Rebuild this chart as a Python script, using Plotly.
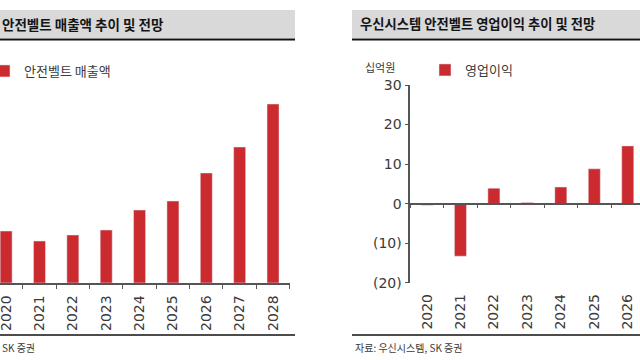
import plotly.graph_objects as go

W, H = 640, 360

# ---- data ----
years_left = ['2020', '2021', '2022', '2023', '2024', '2025', '2026', '2027', '2028']
sales = [52, 42, 48, 53, 73, 82, 110, 136, 179]          # 안전벨트 매출액 (axis cropped; relative scale)
years_right = ['2020', '2021', '2022', '2023', '2024', '2025', '2026']
op_income = [-0.4, -13.3, 3.9, 0.3, 4.2, 8.8, 14.6]      # 영업이익, 십억원
y2_ticks = [-20, -10, 0, 10, 20, 30]
y2_ticktext = ['(20)', '(10)', '0', '10', '20', '30']

RED = '#CB2B2F'
TXT = '#3a3a3a'
AX = '#555555'
KR = 'Noto Sans CJK KR'
NUM = 'DejaVu Sans'


def px(x):
    return x / W


def py(y):
    return 1 - y / H


fig = go.Figure()
fig.add_trace(go.Bar(x=years_left, y=sales, name='안전벨트 매출액', marker_color=RED,
                     width=0.36, xaxis='x', yaxis='y', legend='legend'))
fig.add_trace(go.Bar(x=years_right, y=op_income, name='영업이익', marker_color=RED,
                     width=0.36, xaxis='x2', yaxis='y2', legend='legend2'))

y2_range = [-20, 30]
y2_dom = [py(282.7), py(85)]
zero_pos = y2_dom[0] + (0 - y2_range[0]) / (y2_range[1] - y2_range[0]) * (y2_dom[1] - y2_dom[0])

tickfont = dict(family=NUM, size=14, color=TXT)

fig.update_layout(
    width=W, height=H, margin=dict(l=0, r=0, t=0, b=0, autoexpand=False),
    paper_bgcolor='white', plot_bgcolor='rgba(0,0,0,0)',
    bargap=0.6,
    xaxis=dict(domain=[0, px(289.7)], range=[-0.184, 8.5], type='category',
               showline=True, linecolor=AX, linewidth=1.5, ticks='outside', tickson='boundaries',
               ticklen=4, tickcolor=AX, tickwidth=1.2, tickangle=-90, tickfont=tickfont,
               ticklabelstandoff=5,
               showgrid=False, zeroline=False, anchor='y', fixedrange=True, automargin=False),
    yaxis=dict(domain=[py(283), py(83)], range=[0, 200], visible=False, fixedrange=True),
    xaxis2=dict(domain=[px(410.25), 1], range=[-0.5, 6.366], type='category',
                anchor='free', position=zero_pos,
                showline=True, linecolor=AX, linewidth=1.5, ticks='outside', tickson='boundaries',
                ticklen=4, tickcolor=AX, tickwidth=1.2, tickangle=-90, tickfont=tickfont,
                ticklabelstandoff=84,
                showgrid=False, zeroline=False, fixedrange=True, automargin=False),
    yaxis2=dict(domain=y2_dom, range=y2_range, anchor='x2', side='left',
                tickmode='array', tickvals=y2_ticks, ticktext=y2_ticktext,
                showline=True, linecolor=AX, linewidth=1.5, ticks='outside', ticklen=4,
                tickcolor=AX, tickwidth=1.2, tickfont=tickfont,
                showgrid=False, zeroline=False, fixedrange=True, automargin=False),
    legend=dict(x=px(-16), y=py(71), xanchor='left', yanchor='middle',
                font=dict(family=KR, size=13, color=TXT), bgcolor='rgba(0,0,0,0)',
                borderwidth=0, itemwidth=30),
    legend2=dict(x=px(425), y=py(70), xanchor='left', yanchor='middle',
                 font=dict(family=KR, size=13, color=TXT), bgcolor='rgba(0,0,0,0)',
                 borderwidth=0, itemwidth=30),
    showlegend=True,
)

shapes = []
# title bands
for x0, x1 in [(-5, 295), (352, 645)]:
    shapes.append(dict(type='rect', xref='paper', yref='paper', x0=px(x0), x1=px(x1),
                       y0=py(38), y1=py(10), fillcolor='#d9d9d9', line_width=0, layer='below'))
    shapes.append(dict(type='line', xref='paper', yref='paper', x0=px(x0), x1=px(x1),
                       y0=py(39.5), y1=py(39.5), line=dict(color='#111111', width=2)))
    shapes.append(dict(type='line', xref='paper', yref='paper', x0=px(x0), x1=px(x1),
                       y0=py(335), y1=py(335), line=dict(color='#111111', width=1.6)))
fig.update_layout(shapes=shapes)

ann = [
    dict(text='<b>안전벨트 매출액 추이 및 전망</b>', x=px(0), y=py(24), xanchor='left', yanchor='middle',
         font=dict(family=KR, size=13.5, color='#151515')),
    dict(text='<b>우신시스템 안전벨트 영업이익 추이 및 전망</b>', x=px(358), y=py(24), xanchor='left',
         yanchor='middle', font=dict(family=KR, size=13.3, color='#151515')),
    dict(text='십억원', x=px(363), y=py(67), xanchor='left', yanchor='middle',
         font=dict(family=KR, size=11, color=TXT)),
    dict(text='SK 증권', x=px(37), y=py(347), xanchor='right', yanchor='middle',
         font=dict(family=KR, size=10, color=TXT)),
    dict(text='자료: 우신시스템, SK 증권', x=px(353), y=py(347), xanchor='left', yanchor='middle',
         font=dict(family=KR, size=10, color=TXT)),
]
for a in ann:
    a.update(xref='paper', yref='paper', showarrow=False)
fig.update_layout(annotations=ann)

fig.write_html('out.html', config={'displayModeBar': False},
               post_script="document.body.style.margin='0';document.body.style.overflow='hidden';")
